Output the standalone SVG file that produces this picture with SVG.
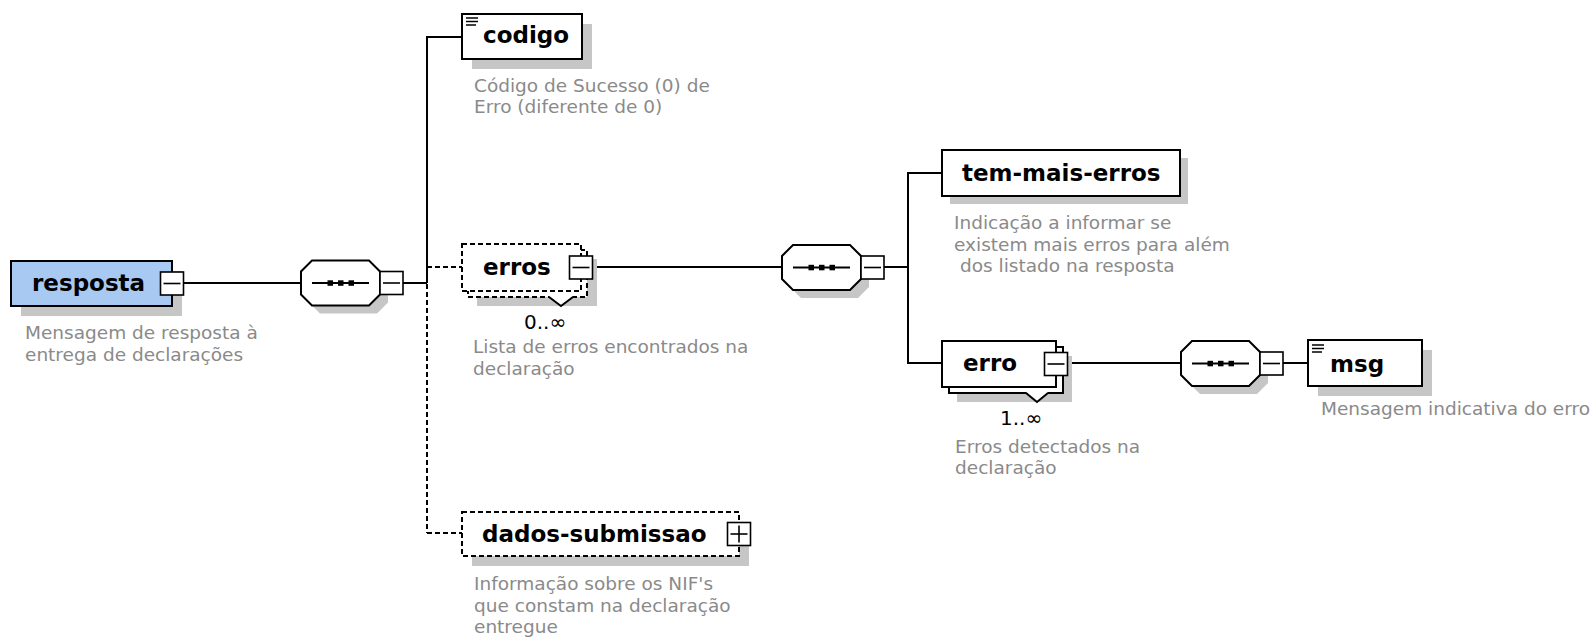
<svg xmlns="http://www.w3.org/2000/svg" width="1595" height="644" viewBox="0 0 1595 644">
<style>
.bg{fill:#fff}
.shadow{fill:#c6c6c6;stroke:none}
.box{fill:#fff;stroke:#000;stroke-width:2}
.root{fill:#a8c9f2;stroke:#000;stroke-width:2}
.opt{fill:#fff;stroke:#000;stroke-width:2;stroke-dasharray:5 3}
.btn{fill:#fff;stroke:#000;stroke-width:1.6}
.glyph{stroke:#000;stroke-width:1.6;fill:none}
.name{font-family:"DejaVu Sans",Verdana,sans-serif;font-weight:bold;font-size:23px;fill:#000}
.desc{font-family:"DejaVu Sans",Tahoma,sans-serif;font-size:18.5px;fill:#8a8a8a}
.mult{font-family:"DejaVu Sans",Arial,sans-serif;font-size:20px;fill:#000}
.line{stroke:#000;stroke-width:2;fill:none}
.dash{stroke:#000;stroke-width:2;fill:none;stroke-dasharray:5 3}
.comp{fill:#fff;stroke:#000;stroke-width:2}
.dot{fill:#000}
.icon{stroke:#000;stroke-width:1.5}
</style>
<defs>
<g id="seq">
<polygon class="shadow" points="19,8 76,8 87,19 87,42 76,53 19,53 8,42 8,19"/>
<polygon class="comp" points="11,0 68,0 79,11 79,34 68,45 11,45 0,34 0,11"/>
<line class="line" x1="11" y1="22.5" x2="68" y2="22.5"/>
<rect class="dot" x="26.5" y="19.8" width="5.5" height="5.5"/>
<rect class="dot" x="37" y="19.8" width="5.5" height="5.5"/>
<rect class="dot" x="47.5" y="19.8" width="5.5" height="5.5"/>
<rect class="btn" x="79" y="11" width="23" height="23"/>
<line class="glyph" x1="82" y1="22.5" x2="99" y2="22.5"/>
</g>
<g id="minus">
<rect class="btn" x="0" y="0" width="23" height="23"/>
<line class="glyph" x1="3" y1="11.5" x2="20" y2="11.5"/>
</g>
<g id="textico">
<line class="icon" x1="0" y1="0" x2="12" y2="0"/>
<line class="icon" x1="0" y1="3.5" x2="12" y2="3.5"/>
<line class="icon" x1="0" y1="7" x2="10" y2="7"/>
</g>
</defs>
<rect class="bg" x="0" y="0" width="1595" height="644"/>

<g id="connectors">
<line class="line" x1="183.5" y1="283" x2="301" y2="283"/>
<line class="line" x1="403" y1="283" x2="427" y2="283"/>
<line class="line" x1="427" y1="36" x2="427" y2="283"/>
<line class="line" x1="426" y1="37" x2="462" y2="37"/>
<line class="dash" x1="427" y1="284" x2="427" y2="533"/>
<line class="dash" x1="427" y1="267" x2="462" y2="267"/>
<line class="dash" x1="427" y1="533" x2="462" y2="533"/>
<line class="line" x1="592" y1="267" x2="782" y2="267"/>
<line class="line" x1="884" y1="267" x2="908" y2="267"/>
<line class="line" x1="908" y1="172" x2="908" y2="364"/>
<line class="line" x1="907" y1="173" x2="942" y2="173"/>
<line class="line" x1="907" y1="363" x2="942" y2="363"/>
<line class="line" x1="1067" y1="363" x2="1181" y2="363"/>
<line class="line" x1="1283" y1="363" x2="1308" y2="363"/>
</g>

<g id="node-resposta">
<rect class="shadow" x="21" y="271" width="161" height="45"/>
<rect class="root" x="11" y="261" width="161" height="45"/>
<text class="name" x="32" y="291">resposta</text>
<use href="#minus" x="160.5" y="272"/>
<text class="desc" x="25" y="339">Mensagem de resposta à</text>
<text class="desc" x="25" y="361">entrega de declarações</text>
</g>

<g id="seq-1">
<use href="#seq" x="301" y="260.5"/>
</g>

<g id="node-codigo">
<rect class="shadow" x="472" y="24" width="120" height="45"/>
<rect class="box" x="462" y="14" width="120" height="45"/>
<use href="#textico" x="466" y="18"/>
<text class="name" x="483" y="43">codigo</text>
<text class="desc" x="474" y="92">Código de Sucesso (0) de</text>
<text class="desc" x="474" y="113">Erro (diferente de 0)</text>
</g>

<g id="node-erros">
<rect class="shadow" x="477" y="259" width="120" height="47"/>
<rect class="opt" x="468" y="250" width="119" height="47"/>
<rect class="opt" x="462" y="244" width="119" height="47"/>
<polygon points="549,296 561,306 573,296" fill="#fff" stroke="none"/>
<polyline class="line" points="549,297 561,306 573,297" stroke-width="1.5"/>
<use href="#minus" x="569.5" y="256"/>
<text class="name" x="483" y="275">erros</text>
<text class="mult" x="524" y="329">0..∞</text>
<text class="desc" x="473" y="353">Lista de erros encontrados na</text>
<text class="desc" x="473" y="375">declaração</text>
</g>

<g id="node-dados-submissao">
<rect class="shadow" x="472" y="522" width="277" height="44"/>
<rect class="opt" x="462" y="512" width="277" height="44"/>
<rect class="btn" x="727.5" y="522.5" width="23" height="23"/>
<line class="glyph" x1="730.5" y1="534" x2="747.5" y2="534"/>
<line class="glyph" x1="739" y1="525.5" x2="739" y2="542.5"/>
<text class="name" x="482" y="542">dados-submissao</text>
<text class="desc" x="474" y="590">Informação sobre os NIF's</text>
<text class="desc" x="474" y="612">que constam na declaração</text>
<text class="desc" x="474" y="633">entregue</text>
</g>

<g id="seq-2">
<use href="#seq" x="782" y="245"/>
</g>

<g id="node-tem-mais-erros">
<rect class="shadow" x="950" y="158" width="238" height="46"/>
<rect class="box" x="942" y="150" width="238" height="46"/>
<text class="name" x="962" y="181">tem-mais-erros</text>
<text class="desc" x="954" y="229">Indicação a informar se</text>
<text class="desc" x="954" y="251">existem mais erros para além</text>
<text class="desc" x="960" y="272">dos listado na resposta</text>
</g>

<g id="node-erro">
<rect class="shadow" x="957" y="356" width="115" height="46"/>
<rect class="box" x="949" y="347" width="114" height="46"/>
<rect class="box" x="942" y="341" width="114" height="46"/>
<polygon points="1026,392 1037,402 1048,392" fill="#fff" stroke="none"/>
<polyline class="line" points="1026,393 1037,402 1048,393" stroke-width="1.5"/>
<use href="#minus" x="1044.5" y="352.5"/>
<text class="name" x="963" y="371">erro</text>
<text class="mult" x="1000" y="425">1..∞</text>
<text class="desc" x="955" y="453">Erros detectados na</text>
<text class="desc" x="955" y="474">declaração</text>
</g>

<g id="seq-3">
<use href="#seq" x="1181" y="341"/>
</g>

<g id="node-msg">
<rect class="shadow" x="1318" y="350" width="114" height="46"/>
<rect class="box" x="1308" y="340" width="114" height="46"/>
<use href="#textico" x="1312" y="345"/>
<text class="name" x="1330" y="372">msg</text>
<text class="desc" x="1321" y="415">Mensagem indicativa do erro</text>
</g>
</svg>
